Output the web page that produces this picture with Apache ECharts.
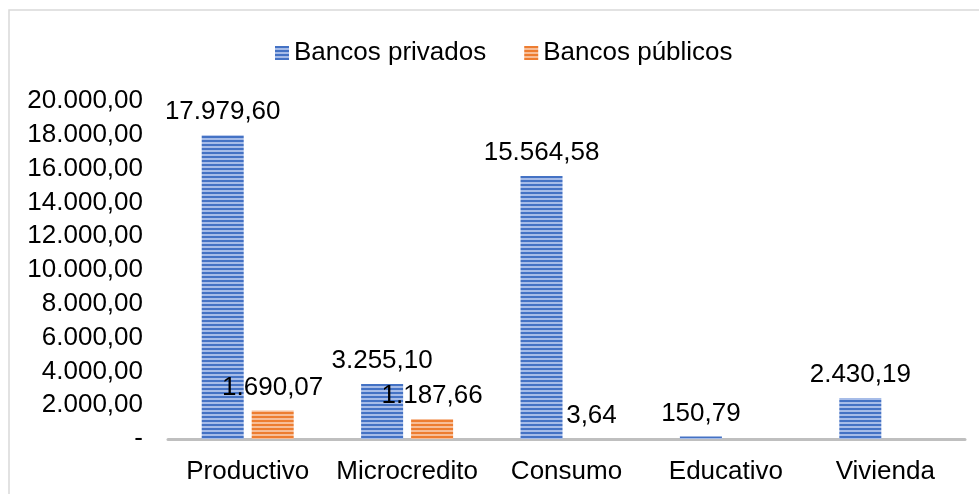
<!DOCTYPE html>
<html><head><meta charset="utf-8">
<script src="https://cdn.jsdelivr.net/npm/echarts@6/dist/echarts.min.js"></script>
<style>html,body{margin:0;padding:0;background:#fff}#c{width:979px;height:494px}</style>
</head><body><div id="c"></div>
<script>
const categories = ['Productivo', 'Microcredito', 'Consumo', 'Educativo', 'Vivienda'];
const seriesNames = ['Bancos privados', 'Bancos públicos'];
const privados = [17979.60, 3255.10, 15564.58, 150.79, 2430.19];
const publicos = [1690.07, 1187.66, 3.64, null, null];
const yTicks = [0, 2000, 4000, 6000, 8000, 10000, 12000, 14000, 16000, 18000, 20000];

function fmt(v) {
  if (v === 0) return '-';
  const parts = v.toFixed(2).split('.');
  parts[0] = parts[0].replace(/\B(?=(\d{3})+(?!\d))/g, '.');
  return parts[0] + ',' + parts[1];
}
function stripe(dark, light) {
  const c = document.createElement('canvas');
  c.width = 4; c.height = 4;
  const g = c.getContext('2d');
  g.fillStyle = light; g.fillRect(0, 0, 4, 4);
  g.fillStyle = dark; g.fillRect(0, 0, 4, 2);
  return { image: c, repeat: 'repeat' };
}
const font = 'Liberation Sans, Arial, sans-serif';
const FS = 26;
const chart = echarts.init(document.getElementById('c'), null, { renderer: 'canvas' });
const lbl = {
  show: true, position: 'top', distance: 10, color: '#000', fontSize: FS, fontFamily: font,
  formatter: p => (p.value == null ? '' : fmt(p.value))
};
chart.setOption({
  animation: false,
  backgroundColor: '#fff',
  graphic: [{ type: 'rect', shape: { x: 9, y: 10, width: 990, height: 520 },
    style: { fill: 'none', stroke: '#D9D9D9', lineWidth: 1.5 }, z: -1 }],
  legend: {
    top: 35, left: 270, itemWidth: 14, itemHeight: 14, itemGap: 38, icon: 'rect',
    textStyle: { color: '#000', fontSize: FS, fontFamily: font },
    data: seriesNames
  },
  grid: { left: 168, right: 14, top: 101, bottom: 55 },
  xAxis: {
    type: 'category', data: categories,
    axisLine: { lineStyle: { color: '#BFBFBF', width: 3 } },
    axisTick: { show: false },
    axisLabel: { color: '#000', fontSize: FS, fontFamily: font, margin: 20, interval: 0 }
  },
  yAxis: {
    type: 'value', min: yTicks[0], max: yTicks[yTicks.length - 1], interval: yTicks[1] - yTicks[0],
    splitLine: { show: false }, axisLine: { show: false }, axisTick: { show: false },
    axisLabel: { color: '#000', fontSize: FS, fontFamily: font, margin: 25, formatter: v => fmt(v) }
  },
  series: [
    { name: seriesNames[0], type: 'bar', data: privados, barWidth: 42, barGap: '19%',
      itemStyle: { color: stripe('#4472C4', '#A6BCE8') }, label: lbl },
    { name: seriesNames[1], type: 'bar', data: publicos, barWidth: 42,
      itemStyle: { color: stripe('#ED7D31', '#F7BE98') }, label: lbl }
  ]
});
</script></body></html>
